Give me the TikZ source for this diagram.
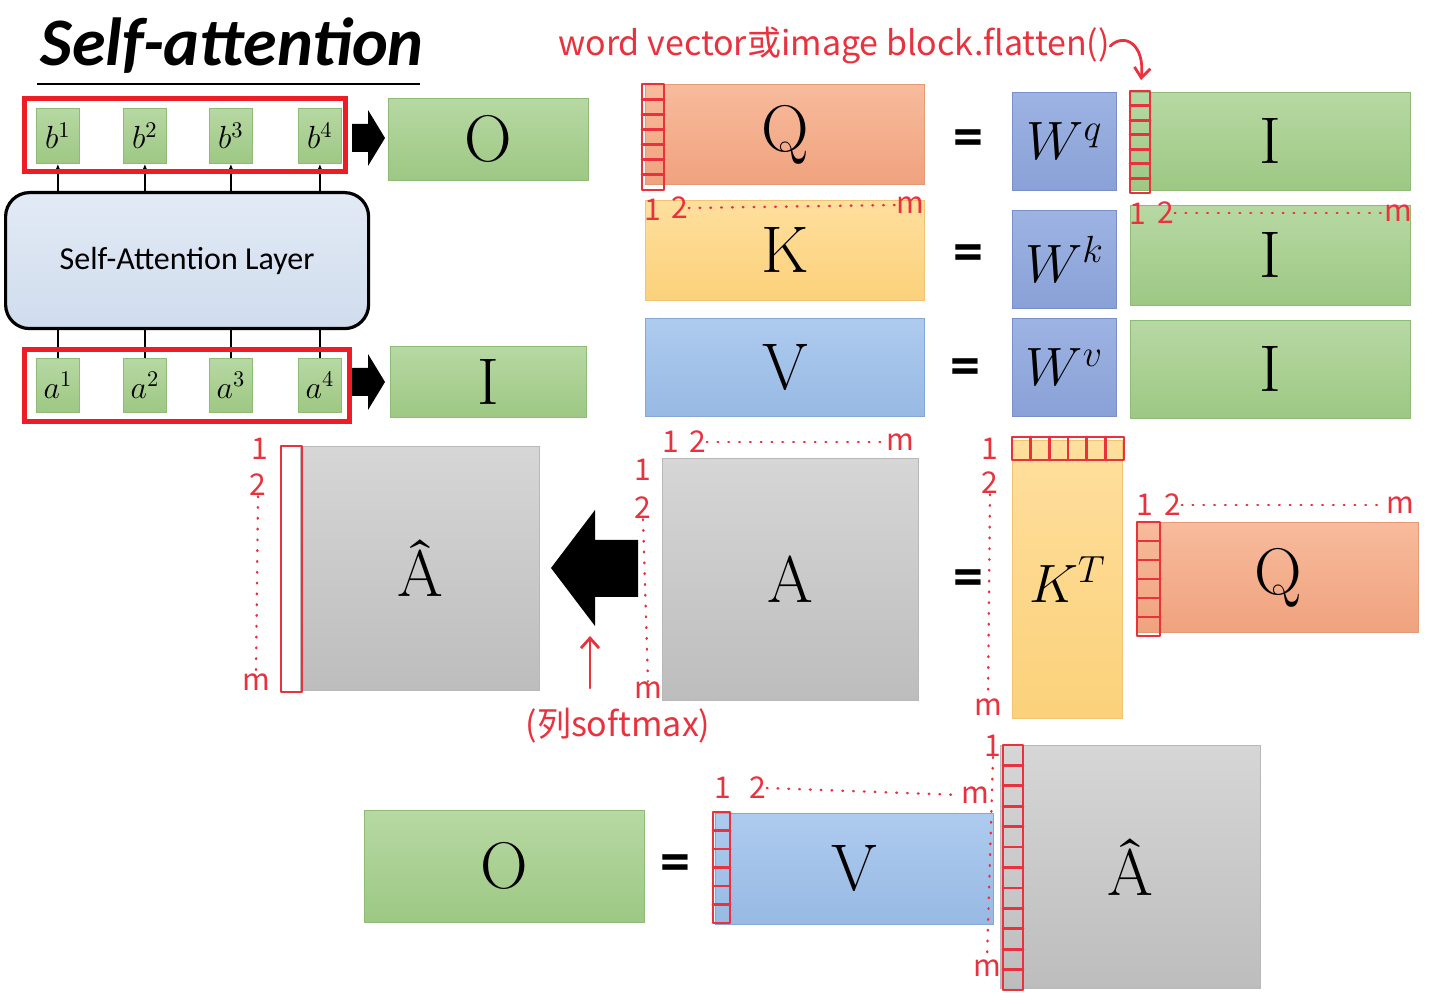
\RequirePackage{fix-cm}
\documentclass[tikz,border=0pt]{standalone}
\usepackage{amsmath}
\usepackage{fontspec}
\newfontfamily\calfont{Carlito}
\newfontfamily\handfont{Noto Sans CJK SC}
\usetikzlibrary{arrows.meta}
\definecolor{gT}{HTML}{B7D8A3}\definecolor{gB}{HTML}{9DC883}\definecolor{gD}{HTML}{8EBB76}
\definecolor{oT}{HTML}{F7BB9C}\definecolor{oB}{HTML}{F0A27E}\definecolor{oD}{HTML}{E59A76}
\definecolor{yT}{HTML}{FFDF9E}\definecolor{yB}{HTML}{FBD17A}\definecolor{yD}{HTML}{EFC571}
\definecolor{vT}{HTML}{AECBEF}\definecolor{vB}{HTML}{97B9E3}\definecolor{vD}{HTML}{86A8D6}
\definecolor{wT}{HTML}{9DB3E3}\definecolor{wB}{HTML}{8AA1D7}\definecolor{wD}{HTML}{7890C8}
\definecolor{aT}{HTML}{D6D6D6}\definecolor{aB}{HTML}{BDBDBD}\definecolor{aD}{HTML}{B8B8B8}
\definecolor{lT}{HTML}{E2EAF5}\definecolor{lB}{HTML}{D0DCED}
\definecolor{mark}{HTML}{EE1C25}
\definecolor{pen}{HTML}{E8323E}
\newcommand\rectnode[7]{\node[#1,anchor=north west,minimum width={(#5-#3)*0.5pt},minimum height={(#6-#4)*0.5pt}] (#2) at (#3,#4) {#7};}
\newcommand\tickcol[5]{%
  \draw[redpen] (#1,#2) rectangle (#3,#4);
  \foreach \i in {1,...,#5} {\draw[redpen] (#1,{#2+(#4-#2)*\i/(#5+1)}) -- (#3,{#2+(#4-#2)*\i/(#5+1)});}}
\newcommand\tickrow[5]{%
  \draw[redpen] (#1,#2) rectangle (#3,#4);
  \foreach \i in {1,...,#5} {\draw[redpen] ({#1+(#3-#1)*\i/(#5+1)},#2) -- ({#1+(#3-#1)*\i/(#5+1)},#4);}}
\begin{document}
\begin{tikzpicture}[x=0.5pt,y=-0.5pt,
  grn/.style={top color=gT,bottom color=gB,draw=gD,line width=0.4pt,inner sep=0pt},
  org/.style={top color=oT,bottom color=oB,draw=oD,line width=0.4pt,inner sep=0pt},
  ylw/.style={top color=yT,bottom color=yB,draw=yD,line width=0.4pt,inner sep=0pt},
  blu/.style={top color=vT,bottom color=vB,draw=vD,line width=0.4pt,inner sep=0pt},
  wbl/.style={top color=wT,bottom color=wB,draw=wD,line width=0.4pt,inner sep=0pt},
  gry/.style={top color=aT,bottom color=aB,draw=aD,line width=0.4pt,inner sep=0pt},
  layerbox/.style={top color=lT,bottom color=lB,draw=black,line width=1.6pt,rounded corners=12pt,inner sep=0pt,font=\calfont\fontsize{16}{16}\selectfont},
  big/.style={font=\fontsize{33}{33}\selectfont},
  wfont/.style={font=\fontsize{27}{27}\selectfont},
  small/.style={font=\fontsize{16}{16}\selectfont},
  eqs/.style={font=\calfont\bfseries\fontsize{30}{30}\selectfont,inner sep=0pt},
  redbox/.style={draw=mark,line width=2.6pt},
  redpen/.style={draw=pen,line width=1.4pt,line cap=round,line join=round},
  dotl/.style={draw=pen,line width=1.2pt,line cap=round,dash pattern=on 0.4pt off 5pt},
  lab/.style={text=pen,font=\handfont\fontsize{15}{15}\selectfont,inner sep=0pt},
  hand/.style={text=pen,font=\handfont\fontsize{17}{17}\selectfont,inner sep=0pt}
]
\useasboundingbox (0,0) rectangle (1440,1004);
\fill[white] (0,0) rectangle (1440,1004);

% title
\node[anchor=base west,inner sep=0pt,font=\calfont\bfseries\itshape\fontsize{34}{34}\selectfont] (title) at (40,66) {Self-attention};
\draw[line width=1pt] (37,84) -- (420,84);

% left diagram
\rectnode{layerbox}{layer}{4}{191}{367}{327}{Self-Attention Layer}
\rectnode{grn,small}{b1}{36}{108}{79}{163}{$b^1$}
\rectnode{grn,small}{b2}{123}{108}{166}{163}{$b^2$}
\rectnode{grn,small}{b3}{209}{108}{252}{163}{$b^3$}
\rectnode{grn,small}{b4}{298}{108}{341}{163}{$b^4$}
\rectnode{grn,small}{a1}{36}{358}{79}{412}{$a^1$}
\rectnode{grn,small}{a2}{123}{358}{166}{412}{$a^2$}
\rectnode{grn,small}{a3}{209}{358}{252}{412}{$a^3$}
\rectnode{grn,small}{a4}{298}{358}{341}{412}{$a^4$}
\foreach \n in {1,...,4} {
  \draw[line width=0.8pt,-{Latex[length=3.5pt,width=3pt]}] (b\n |- layer.north) -- (b\n.south);
  \draw[line width=0.8pt] (a\n |- layer.south) -- (a\n.north);
}
\draw[redbox] (24.5,98.5) rectangle (345.5,171.5);
\draw[redbox] (24.5,349.5) rectangle (349.5,421.5);
\rectnode{grn,big}{O1}{388}{98}{588}{180}{O}
\rectnode{grn,big}{I1}{390}{346}{586}{417}{I}
\fill (352,124) -- (368,124) -- (368,110) -- (385,138) -- (368,166) -- (368,152) -- (352,152) -- cycle;
\fill (352,368) -- (368,368) -- (368,354) -- (385,382) -- (368,410) -- (368,396) -- (352,396) -- cycle;

% Q K V rows
\rectnode{org,big}{Q1}{645}{84}{924}{184}{Q}
\rectnode{wbl,wfont}{Wq}{1012}{92}{1116}{190}{$W^q$}
\rectnode{grn,big}{Iq}{1130}{92}{1410}{190}{I}
\node[eqs] (eq1) at (968,143) {=};
\rectnode{ylw,big}{K1}{645}{200}{924}{300}{K}
\rectnode{wbl,wfont}{Wk}{1012}{210}{1116}{308}{$W^k$}
\rectnode{grn,big}{Ik}{1130}{205}{1410}{305}{I}
\node[eqs] (eq2) at (968,258) {=};
\rectnode{blu,big}{V1}{645}{318}{924}{416}{V}
\rectnode{wbl,wfont}{Wv}{1012}{318}{1116}{416}{$W^v$}
\rectnode{grn,big}{Iv}{1130}{320}{1410}{418}{I}
\node[eqs] (eq3) at (965,372) {=};

\tickcol{642}{84}{664}{190}{6}
\tickcol{1130}{91}{1150}{193}{6}

\node[hand,anchor=west] (ann) at (558,46) {word vector或image block.flatten()};
\coordinate (iqtop) at (1141,80);
\draw[redpen,-{Straight Barb[length=5pt,width=8pt]}] (ann.east) .. controls (1125,32) and (1145,45) .. (iqtop);

\node[lab] (q1a) at (653,210) {1};
\node[lab] (q1b) at (680,208) {2};
\node[lab] (q1m) at (910,205) {m};
\draw[dotl] (q1b.east) -- (q1m.west);
\node[lab] (iqa) at (1138,214) {1};
\node[lab] (iqb) at (1166,213) {2};
\node[lab] (iqm) at (1398,213) {m};
\draw[dotl] (iqb.east) -- (iqm.west);

% second row
\rectnode{gry,big}{Ah1}{300}{446}{539}{690}{Â}
\draw[redpen] (281,446) rectangle (302,692);
\node[lab] (h1a) at (260,449) {1};
\node[lab] (h1b) at (258,485) {2};
\node[lab] (h1m) at (256,682) {m};
\draw[dotl] (h1b.south) -- (h1m.north);

\fill (638,540) -- (595,540) -- (595,510) -- (551,568) -- (595,626) -- (595,597) -- (638,597) -- cycle;
\coordinate (arrbot) at (590,636);
\node[hand] (smx) at (618,726) {(列softmax)};
\draw[redpen,-{Straight Barb[length=5pt,width=9pt]}] (590,688) -- (arrbot);

\rectnode{gry,big}{A}{662}{458}{918}{700}{A}
\node[lab] (ata) at (671,442) {1};
\node[lab] (atb) at (698,442) {2};
\node[lab] (atm) at (900,442) {m};
\draw[dotl] (atb.east) -- (atm.west);
\node[lab] (ala) at (643,470) {1};
\node[lab] (alb) at (643,508) {2};
\node[lab] (alm) at (648,690) {m};
\draw[dotl] (alb.south) -- (alm.north);

\node[eqs] (eq4) at (968,583) {=};
\rectnode{ylw,wfont}{KT}{1012}{440}{1122}{718}{$K^T$}
\tickrow{1012}{437}{1124}{460}{5}
\node[lab] (kla) at (990,449) {1};
\node[lab] (klb) at (990,483) {2};
\node[lab] (klm) at (988,707) {m};
\draw[dotl] (klb.south) -- (klm.north);

\rectnode{org,big}{Q2}{1137}{522}{1418}{632}{Q}
\tickcol{1137}{522}{1160}{636}{5}
\node[lab] (q2a) at (1145,505) {1};
\node[lab] (q2b) at (1173,505) {2};
\node[lab] (q2m) at (1400,505) {m};
\draw[dotl] (q2b.east) -- (q2m.west);

% third row
\rectnode{grn,big}{O2}{364}{810}{644}{922}{O}
\node[eqs] (eq5) at (675,868) {=};
\rectnode{blu,big}{V2}{715}{813}{993}{924}{V}
\tickcol{713}{812}{730}{923}{5}
\node[lab] (v2a) at (723,788) {1};
\node[lab] (v2b) at (758,788) {2};
\node[lab] (v2m) at (975,795) {m};
\draw[dotl] (v2b.east) -- (v2m.west);

\rectnode{gry,big}{Ah2}{1000}{745}{1260}{988}{Â}
\tickcol{1003}{745}{1023}{990}{11}
\node[lab] (h2a) at (993,746) {1};
\node[lab] (h2m) at (987,968) {m};
\draw[dotl] (h2a.south) -- (h2m.north);
\end{tikzpicture}
\end{document}
